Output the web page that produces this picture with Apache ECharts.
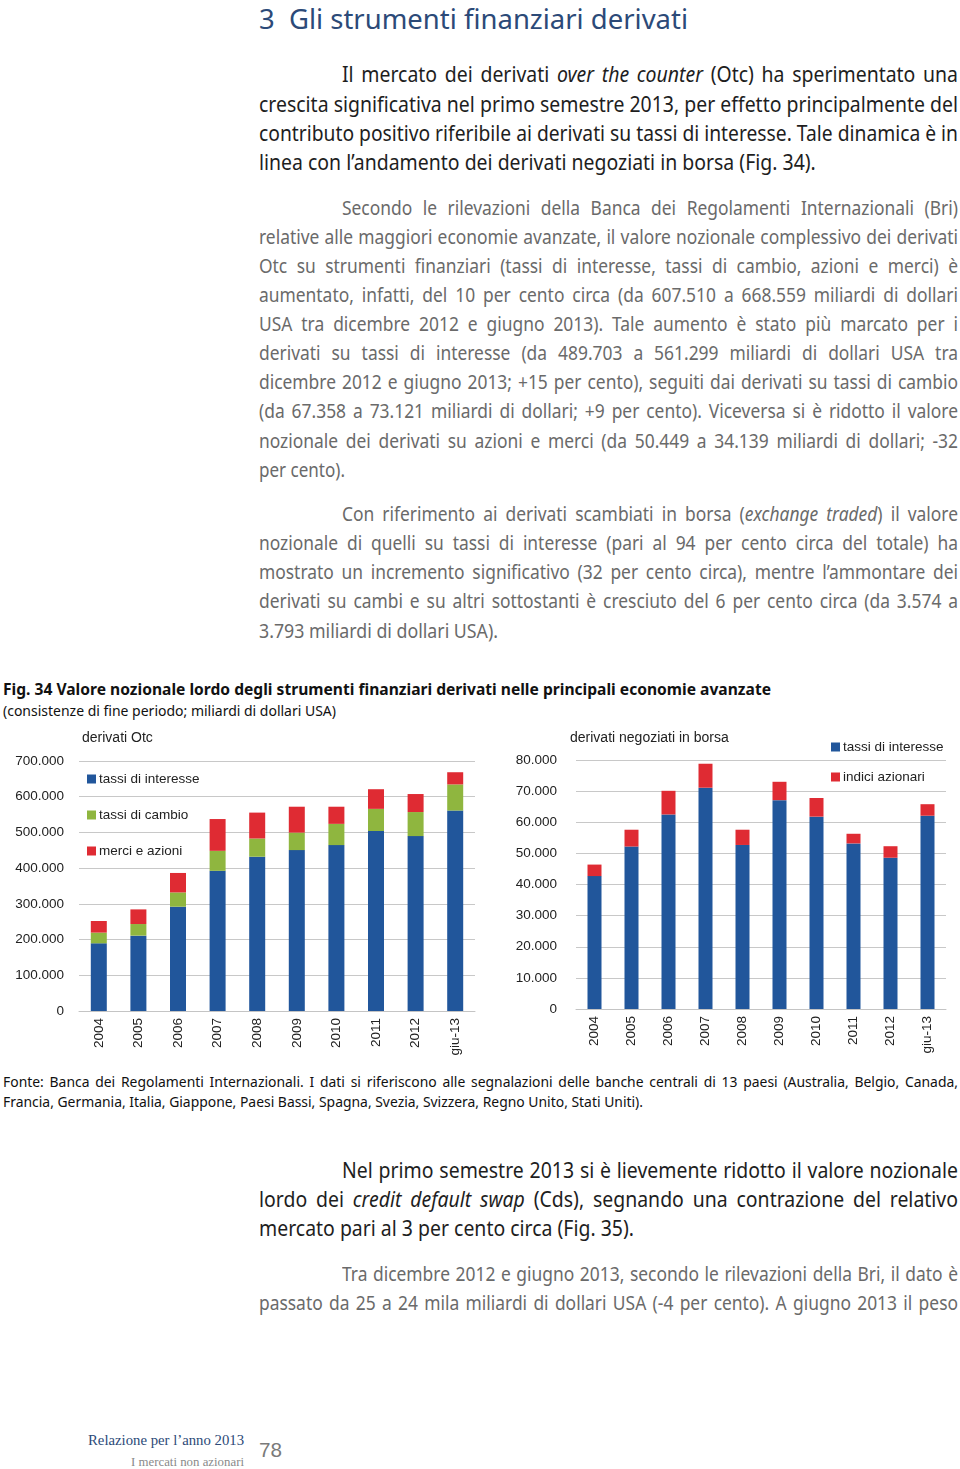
<!DOCTYPE html>
<html><head><meta charset="utf-8">
<script src="https://cdn.jsdelivr.net/npm/echarts@6/dist/echarts.min.js"></script>
<style>
html,body{margin:0;padding:0;background:#fff;}
#page{position:relative;width:960px;height:1469px;overflow:hidden;background:#fff;}
.ln{position:absolute;white-space:nowrap;transform-origin:0 50%;}
.ln span{display:inline-block;white-space:nowrap;}
#chart{position:absolute;left:0;top:725px;width:960px;height:345px;}
</style></head><body><div id="page"><div id="chart"></div></div>
<script>
// ---------------- DATA ----------------
const categories = ['2004','2005','2006','2007','2008','2009','2010','2011','2012','giu-13'];
// derivati Otc (miliardi di dollari USA)
const otcTassiInteresse = [189500, 211000, 292000, 392500, 432000, 450500, 464500, 504000, 489703, 561299];
const otcTassiCambio    = [30000, 32500, 40000, 56000, 51000, 49000, 59500, 62000, 67358, 73121];
const otcMerciAzioni    = [32500, 41000, 54500, 89000, 72500, 72500, 48000, 55000, 50449, 34139];
// derivati negoziati in borsa
const borsaTassiInteresse = [42700, 52200, 62500, 71100, 52700, 67100, 61800, 53200, 48600, 62100];
const borsaIndiciAzionari = [3700, 5400, 7600, 7700, 4900, 5900, 6000, 3100, 3700, 3700];
const otcTicks = [0, 700000, 100000];   // min, max, interval
const borsaTicks = [0, 80000, 10000];

// ---------------- PAGE TEXT ----------------
const ST = {
  title:{ff:'"Noto Sans"',fs:28,c:'#2c4a78',fw:'normal',lh:34,cond:.82},
  blk:{ff:'"Noto Sans"',fs:21,c:'#1e1e1e',fw:'normal',lh:28,cond:.9},
  gry:{ff:'"Noto Sans"',fs:20.5,c:'#6a6a6a',fw:'normal',lh:28,cond:.84},
  cap:{ff:'"Noto Sans"',fs:16.5,c:'#111',fw:'bold',lh:22,cond:.86},
  sub:{ff:'"Noto Sans"',fs:14.5,c:'#111',fw:'normal',lh:18,cond:.86},
  fon:{ff:'"Noto Sans"',fs:14.5,c:'#111',fw:'normal',lh:18,cond:.86},
  ft1:{ff:'"Liberation Serif"',fs:14.5,c:'#2c4a78',fw:'normal',lh:18,cond:1},
  ft2:{ff:'"Liberation Serif"',fs:12,c:'#8a8a8a',fw:'normal',lh:16,cond:1},
  num:{ff:'"Liberation Sans"',fs:21,c:'#7a7a7a',fw:'normal',lh:24,cond:1}
};
// [style, html, x, yCenter, endX (null = use style width factor), justify, refForStyle]
const LINES = [
 ['title','3&nbsp;&nbsp;Gli strumenti finanziari derivati',259,18,688,false,true],
 ['blk','Il mercato dei derivati <i>over the counter</i> (Otc) ha sperimentato una',342,74,958,true],
 ['blk','crescita significativa nel primo semestre 2013, per effetto principalmente del',259,104,958,true],
 ['blk','contributo positivo riferibile ai derivati su tassi di interesse. Tale dinamica è in',259,133,958,true],
 ['blk','linea con l’andamento dei derivati negoziati in borsa (Fig. 34).',259,162,null,false],
 ['gry','Secondo le rilevazioni della Banca dei Regolamenti Internazionali (Bri)',342,207,958,true],
 ['gry','relative alle maggiori economie avanzate, il valore nozionale complessivo dei derivati',259,236,958,true],
 ['gry','Otc su strumenti finanziari (tassi di interesse, tassi di cambio, azioni e merci) è',259,265,958,true],
 ['gry','aumentato, infatti, del 10 per cento circa (da 607.510 a 668.559 miliardi di dollari',259,294,958,true],
 ['gry','USA tra dicembre 2012 e giugno 2013). Tale aumento è stato più marcato per i',259,323,958,true],
 ['gry','derivati su tassi di interesse (da 489.703 a 561.299 miliardi di dollari USA tra',259,352,958,true],
 ['gry','dicembre 2012 e giugno 2013; +15 per cento), seguiti dai derivati su tassi di cambio',259,381,958,true],
 ['gry','(da 67.358 a 73.121 miliardi di dollari; +9 per cento). Viceversa si è ridotto il valore',259,410,958,true],
 ['gry','nozionale dei derivati su azioni e merci (da 50.449 a 34.139 miliardi di dollari; -32',259,440,958,true],
 ['gry','per cento).',259,469,345,false,true],
 ['gry','Con riferimento ai derivati scambiati in borsa (<i>exchange traded</i>) il valore',342,513,958,true],
 ['gry','nozionale di quelli su tassi di interesse (pari al 94 per cento circa del totale) ha',259,542,958,true],
 ['gry','mostrato un incremento significativo (32 per cento circa), mentre l’ammontare dei',259,571,958,true],
 ['gry','derivati su cambi e su altri sottostanti è cresciuto del 6 per cento circa (da 3.574 a',259,600,958,true],
 ['gry','3.793 miliardi di dollari USA).',259,630,498,false,true],
 ['cap','Fig. 34 Valore nozionale lordo degli strumenti finanziari derivati nelle principali economie avanzate',3,689,771,false,true],
 ['sub','(consistenze di fine periodo; miliardi di dollari USA)',3,710,336,false,true],
 ['fon','Fonte: Banca dei Regolamenti Internazionali. I dati si riferiscono alle segnalazioni delle banche centrali di 13 paesi (Australia, Belgio, Canada,',3,1081,958,true],
 ['fon','Francia, Germania, Italia, Giappone, Paesi Bassi, Spagna, Svezia, Svizzera, Regno Unito, Stati Uniti).',3,1101,643,false,true],
 ['blk','Nel primo semestre 2013 si è lievemente ridotto il valore nozionale',342,1170,958,true],
 ['blk','lordo dei <i>credit default swap</i> (Cds), segnando una contrazione del relativo',259,1199,958,true],
 ['blk','mercato pari al 3 per cento circa (Fig. 35).',259,1228,634,false,true],
 ['gry','Tra dicembre 2012 e giugno 2013, secondo le rilevazioni della Bri, il dato è',342,1273,958,true],
 ['gry','passato da 25 a 24 mila miliardi di dollari USA (-4 per cento). A giugno 2013 il peso',259,1302,958,true],
 ['ft1','Relazione per l’anno 2013',88,1440,244,false,true],
 ['ft2','I mercati non azionari',131,1462,244,false,true],
 ['num','78',259,1450,282,false,true]
];
const page = document.getElementById('page');
const made = LINES.map(([sk, html, x, y, ex, just, ref]) => {
  const s = ST[sk];
  const d = document.createElement('div');
  d.className = 'ln';
  d.style.cssText = `left:${x}px;top:${y - s.lh/2}px;height:${s.lh}px;line-height:${s.lh}px;font-family:${s.ff},sans-serif;font-size:${s.fs}px;color:${s.c};font-weight:${s.fw};`;
  const sp = document.createElement('span');
  sp.innerHTML = html;
  d.appendChild(sp);
  page.appendChild(d);
  const nw = sp.getBoundingClientRect().width;
  return {sk, x, ex, just, ref, d, sp, nw};
});
// width factor per style from reference (left-aligned) lines
const acc = {};
made.forEach(m => { if (m.ref && !m.just && m.ex) { (acc[m.sk] = acc[m.sk] || []).push((m.ex - m.x) / m.nw); } });
Object.keys(acc).forEach(k => { ST[k].cond = acc[k].reduce((a,b)=>a+b,0) / acc[k].length; });
made.forEach(m => {
  const s = ST[m.sk];
  let scale;
  if (m.just) {
    const w = m.ex - m.x;
    scale = Math.min(s.cond, w / m.nw);
    const n = (m.sp.textContent.match(/ /g) || []).length;
    if (n > 0) m.sp.style.wordSpacing = ((w / scale - m.nw) / n) + 'px';
  } else if (m.ex) {
    scale = (m.ex - m.x) / m.nw;
  } else {
    scale = s.cond;
  }
  m.d.style.transform = `scaleX(${scale})`;
});

// ---------------- CHART ----------------
const fmt = v => String(v).replace(/\B(?=(\d{3})+(?!\d))/g, '.');
const BLUE = '#21569b', GREEN = '#8fb63f', RED = '#df2b33';
const lab = {color:'#222', fontSize:13.5, fontFamily:'Liberation Sans'};
const xAx = (gi) => ({
  gridIndex: gi, type:'category', data: categories,
  axisLine:{lineStyle:{color:'#c4c4c4', width:1}}, axisTick:{show:false},
  axisLabel:Object.assign({rotate:90, margin:7, interval:0}, lab)
});
const yAx = (gi, t, m) => ({
  gridIndex: gi, type:'value', min:t[0], max:t[1], interval:t[2],
  axisLine:{show:false}, axisTick:{show:false},
  splitLine:{lineStyle:{color:'#c8c8c8', width:1}},
  axisLabel:Object.assign({formatter:fmt, margin:m}, lab)
});
const chart = echarts.init(document.getElementById('chart'));
chart.setOption({
  animation:false,
  textStyle:{fontFamily:'Liberation Sans'},
  title:[
    {text:'derivati Otc', left:82, top:6, padding:0, textStyle:{fontSize:14, fontWeight:'normal', color:'#222', fontFamily:'Liberation Sans'}},
    {text:'derivati negoziati in borsa', left:570, top:6, padding:0, textStyle:{fontSize:14, fontWeight:'normal', color:'#222', fontFamily:'Liberation Sans'}}
  ],
  legend:[
    {orient:'vertical', left:87, top:47, padding:0, itemWidth:9, itemHeight:9, itemGap:22, icon:'rect',
     data:['tassi di interesse','tassi di cambio','merci e azioni'],
     textStyle:{fontSize:13.5, color:'#222', lineHeight:14, fontFamily:'Liberation Sans', padding:[0,0,0,-2]}},
    {orient:'vertical', left:831, top:15, padding:0, itemWidth:9, itemHeight:9, itemGap:16, icon:'rect',
     data:['tassi di interesse ','indici azionari'],
     textStyle:{fontSize:13.5, color:'#222', lineHeight:14, fontFamily:'Liberation Sans', padding:[0,0,0,-2]}}
  ],
  grid:[
    {left:79, width:396, top:36, height:250},
    {left:576, width:370, top:35, height:249}
  ],
  xAxis:[xAx(0), xAx(1)],
  yAxis:[yAx(0, otcTicks, 15), yAx(1, borsaTicks, 19)],
  series:[
    {name:'tassi di interesse', type:'bar', stack:'otc', xAxisIndex:0, yAxisIndex:0, barWidth:16, itemStyle:{color:BLUE}, data:otcTassiInteresse},
    {name:'tassi di cambio', type:'bar', stack:'otc', xAxisIndex:0, yAxisIndex:0, barWidth:16, itemStyle:{color:GREEN}, data:otcTassiCambio},
    {name:'merci e azioni', type:'bar', stack:'otc', xAxisIndex:0, yAxisIndex:0, barWidth:16, itemStyle:{color:RED}, data:otcMerciAzioni},
    {name:'tassi di interesse ', type:'bar', stack:'borsa', xAxisIndex:1, yAxisIndex:1, barWidth:14, itemStyle:{color:BLUE}, data:borsaTassiInteresse},
    {name:'indici azionari', type:'bar', stack:'borsa', xAxisIndex:1, yAxisIndex:1, barWidth:14, itemStyle:{color:RED}, data:borsaIndiciAzionari}
  ]
});
</script></body></html>
